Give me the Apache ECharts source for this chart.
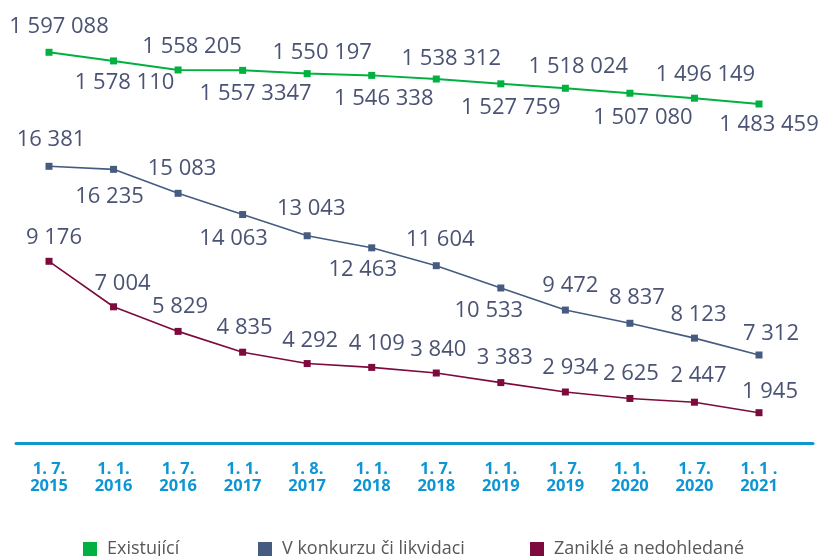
<!DOCTYPE html>
<html><head><meta charset="utf-8">
<script src="https://cdn.jsdelivr.net/npm/echarts@6/dist/echarts.min.js"></script>
<style>html,body{margin:0;padding:0;background:#fff}#c{width:821px;height:556px}</style>
</head><body><div id="c"></div>
<script>
// ---- data ----
const categories = ['1. 7.\n2015','1. 1.\n2016','1. 7.\n2016','1. 1.\n2017','1. 8.\n2017','1. 1.\n2018','1. 7.\n2018','1. 1.\n2019','1. 7.\n2019','1. 1.\n2020','1. 7.\n2020','1. 1 .\n2021'];
const existujici = [1597088,1578110,1558205,1557347,1550197,1546338,1538312,1527759,1518024,1507080,1496149,1483459];
const existujiciText = ['1 597 088','1 578 110','1 558 205','1 557 3347','1 550 197','1 546 338','1 538 312','1 527 759','1 518 024','1 507 080','1 496 149','1 483 459'];
const konkurz = [16381,16235,15083,14063,13043,12463,11604,10533,9472,8837,8123,7312];
const zanikle = [9176,7004,5829,4835,4292,4109,3840,3383,2934,2625,2447,1945];
const seriesNames = ['Existující','V konkurzu či likvidaci','Zaniklé a nedohledané'];

// ---- label nudges (style, relative to each point) ----
const greenNudge = [[10,-26],[11,22],[14,-23],[13,23],[15,-21],[12,23],[15,-20],[10,24],[13,-22],[13,24],[11,-23],[10,21]];
const blueNudge  = [[2,-27],[-4,27],[4,-25],[-9,24],[4,-27],[-9,22],[4,-26],[-12,23],[5,-24],[7,-26],[4,-23],[12,-21]];
const redNudge   = [[5,-24],[9,-23],[2,-25],[2,-24],[3,-23],[5,-24],[2,-23],[4,-25],[5,-24],[1,-25],[4,-26],[11,-21]];

const fmt = v => String(v).replace(/\B(?=(\d{3})+(?!\d))/g, ' ');
const FONT = 'Open Sans';
const labelBase = {show:true, position:'inside', fontFamily:FONT, fontSize:22, color:'#4b5374', lineHeight:22};

function build(vals, nudges, texts){
  return vals.map((v,i)=>({value:v, label:Object.assign({}, labelBase, {offset:nudges[i], formatter: texts ? texts[i] : fmt(v)})}));
}

const chart = echarts.init(document.getElementById('c'), null, {renderer:'canvas'});
const legendCommon = {icon:'rect', itemWidth:14, itemHeight:14, top:540, padding:0,
  textStyle:{fontFamily:FONT, fontSize:18, color:'#58585a', padding:[0,0,0,5]}};
chart.setOption({
  animation:false,
  backgroundColor:'#ffffff',
  grid:[
    {left:49, right:62, top:43, bottom:113},
    {left:16, right:8, top:43, bottom:113}
  ],
  xAxis:[
    {type:'category', gridIndex:0, data:categories, boundaryGap:false,
     axisLine:{show:false}, axisTick:{show:false}, splitLine:{show:false},
     axisLabel:{margin:18, fontFamily:FONT, fontWeight:'bold', fontSize:16.5, lineHeight:17, color:'#0e96d4', interval:0}},
    {type:'value', gridIndex:1, min:0, max:1,
     axisLine:{show:true, lineStyle:{color:'#0e96d4', width:3}}, axisTick:{show:false}, axisLabel:{show:false}, splitLine:{show:false}}
  ],
  yAxis:[
    {type:'value', gridIndex:0, show:false, min:738300, max:1617500},
    {type:'value', gridIndex:0, show:false, min:3083, max:22307},
    {type:'value', gridIndex:0, show:false, min:498, max:19602},
    {type:'value', gridIndex:1, show:false, min:0, max:1}
  ],
  legend:[
    Object.assign({}, legendCommon, {left:83, data:[seriesNames[0]]}),
    Object.assign({}, legendCommon, {left:258, data:[seriesNames[1]]}),
    Object.assign({}, legendCommon, {left:530, data:[seriesNames[2]]})
  ],
  series:[
    {name:seriesNames[0], type:'line', xAxisIndex:0, yAxisIndex:0, data:build(existujici, greenNudge, existujiciText),
     symbol:'rect', symbolSize:7, lineStyle:{color:'#00b140', width:2}, itemStyle:{color:'#00b140'}},
    {name:seriesNames[1], type:'line', xAxisIndex:0, yAxisIndex:1, data:build(konkurz, blueNudge),
     symbol:'rect', symbolSize:7, lineStyle:{color:'#455c80', width:1.6}, itemStyle:{color:'#455c80'}},
    {name:seriesNames[2], type:'line', xAxisIndex:0, yAxisIndex:2, data:build(zanikle, redNudge),
     symbol:'rect', symbolSize:7, lineStyle:{color:'#7d0a3c', width:1.6}, itemStyle:{color:'#7d0a3c'}}
  ]
});
</script>
</body></html>
